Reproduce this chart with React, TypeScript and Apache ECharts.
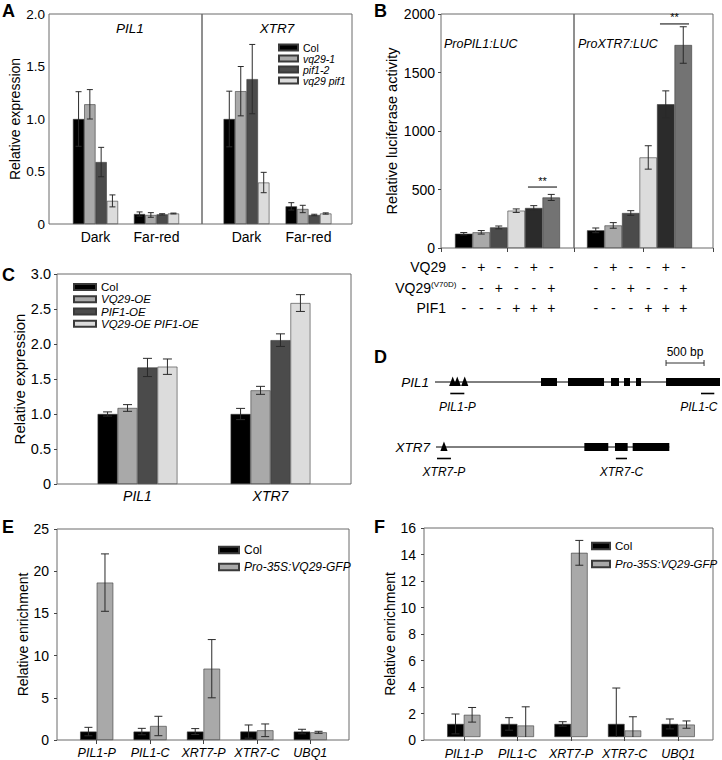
import React, { useEffect, useRef } from 'react';
import * as echarts from 'echarts';

const FONT = '"Liberation Sans", Arial, Helvetica, sans-serif';

// ---------------- Panel A ----------------
const aCategories = ['Dark', 'Far-red'];
const aNames = ['Col', 'vq29-1', 'pif1-2', 'vq29 pif1'];
const aColors = ['#000000', '#a9a9a9', '#4b4b4b', '#dcdcdc'];
const aTicks = [0, 0.5, 1, 1.5, 2];
// per genotype: [Dark, Far-red]
const aPil1Values = [[1.0, 0.095], [1.14, 0.086], [0.59, 0.092], [0.22, 0.10]];
const aPil1Errors = [[0.26, 0.02], [0.14, 0.022], [0.14, 0.006], [0.057, 0.004]];
const aXtr7Values = [[1.0, 0.168], [1.265, 0.143], [1.38, 0.086], [0.395, 0.10]];
const aXtr7Errors = [[0.265, 0.035], [0.235, 0.035], [0.33, 0.007], [0.097, 0.006]];

// ---------------- Panel B ----------------
const bColors = ['#000000', '#a9a9a9', '#4b4b4b', '#dcdcdc', '#2b2b2b', '#737373'];
const bTicks = [0, 500, 1000, 1500, 2000];
const bPil1Values = [122, 134, 176, 319, 342, 432];
const bPil1Errors = [10, 15, 12, 15, 20, 26];
const bXtr7Values = [151, 193, 299, 774, 1229, 1735];
const bXtr7Errors = [20, 24, 20, 100, 114, 156];
const bVq29 = ['-', '+', '-', '-', '+', '-'];
const bVq29V70D = ['-', '-', '+', '-', '-', '+'];
const bPif1 = ['-', '-', '-', '+', '+', '+'];
// significance brackets: [fromBar, toBar, level]
const bPil1Sig = [[4, 5, 521]];
const bXtr7Sig = [[4, 5, 1915]];

// ---------------- Panel C ----------------
const cCategories = ['PIL1', 'XTR7'];
const cNames = ['Col', 'VQ29-OE', 'PIF1-OE', 'VQ29-OE PIF1-OE'];
const cColors = ['#000000', '#a9a9a9', '#4b4b4b', '#dcdcdc'];
const cTicks = [0, 0.5, 1, 1.5, 2, 2.5, 3];
// per genotype: [PIL1, XTR7]
const cValues = [[1.0, 1.0], [1.086, 1.338], [1.665, 2.055], [1.676, 2.585]];
const cErrors = [[0.03, 0.08], [0.048, 0.057], [0.13, 0.09], [0.11, 0.12]];

// ---------------- Panel D (gene models, bp) ----------------
const geneNames = ['PIL1', 'XTR7'];
const geneSpans = [[0, 3750], [13, 3083]];
const geneExons = [
  [[1395, 1605], [1750, 2224], [2316, 2421], [2487, 2566], [2645, 2711], [3040, 3750]],
  [[1965, 2280], [2368, 2535], [2601, 3083]],
];
const geneMotifs = [[233, 293, 391], [118]];
const primerNames = [['PIL1-P', 'PIL1-C'], ['XTR7-P', 'XTR7-C']];
const primerSpans = [[[201, 386], [3500, 3675]], [[26, 210], [2380, 2526]]];
const scaleBarStart = 3040;
const scaleBarBp = 500;
const dAxisMaxBp = 3750;

// ---------------- Panel E ----------------
const eCategories = ['PIL1-P', 'PIL1-C', 'XRT7-P', 'XTR7-C', 'UBQ1'];
const efNames = ['Col', 'Pro-35S:VQ29-GFP'];
const efColors = ['#000000', '#a9a9a9'];
const eTicks = [0, 5, 10, 15, 20, 25];
const eColValues = [1, 1, 1, 1, 1];
const eColErrors = [0.5, 0.38, 0.35, 0.78, 0.27];
const eGfpValues = [18.65, 1.66, 8.45, 1.15, 0.91];
const eGfpErrors = [3.4, 1.15, 3.45, 0.75, 0.12];

// ---------------- Panel F ----------------
const fCategories = ['PIL1-P', 'PIL1-C', 'XRT7-P', 'XTR7-C', 'UBQ1'];
const fTicks = [0, 2, 4, 6, 8, 10, 12, 14, 16];
const fColValues = [1, 1, 1, 1, 1];
const fColErrors = [0.76, 0.48, 0.17, 2.75, 0.38];
const fGfpValues = [1.7, 0.88, 14.1, 0.5, 0.95];
const fGfpErrors = [0.56, 1.43, 0.95, 1.05, 0.28];

// ---------------- helpers ----------------
function frameGrid(left: number, top: number, width: number, height: number) {
  return { left, top, width, height, show: true, borderColor: '#6b6b6b', borderWidth: 1, backgroundColor: 'transparent' };
}
function dataGrid(left: number, top: number, width: number, height: number) {
  return { left, top, width, height, show: false };
}
const fmt1 = (v: number) => (v === 0 ? '0' : v.toFixed(1));
const fmtInt = (v: number) => String(v);

function frameY(gridIndex: number, ticks: number[], o: any) {
  return {
    type: 'value', gridIndex, min: ticks[0], max: ticks[ticks.length - 1], interval: ticks[1] - ticks[0],
    show: o.show !== false,
    axisLine: { show: false },
    axisTick: { show: !!o.tick, length: 3, lineStyle: { color: '#444' } },
    splitLine: { show: false },
    axisLabel: { margin: o.margin, fontSize: o.fontSize, color: '#000', fontFamily: FONT, formatter: o.fmt || fmtInt },
    name: o.name, nameLocation: 'middle', nameGap: o.nameGap, nameRotate: 90,
    nameTextStyle: { fontSize: o.nameSize, color: '#000', fontFamily: FONT },
  };
}
function hiddenY(gridIndex: number, ticks: number[]) {
  return { type: 'value', gridIndex, min: ticks[0], max: ticks[ticks.length - 1], interval: ticks[1] - ticks[0], show: false, splitLine: { show: false } };
}
function hiddenX(gridIndex: number) {
  return { type: 'category', gridIndex, data: [''], show: false };
}
function dataX(gridIndex: number, cats: string[], o: any) {
  return {
    type: 'category', gridIndex, data: cats,
    axisLine: { show: false },
    axisTick: { show: !!o.tick, alignWithLabel: true, length: 4, lineStyle: { color: '#444' } },
    splitLine: { show: false },
    axisLabel: {
      interval: 0, margin: o.margin, fontSize: o.fontSize, color: '#000', fontFamily: FONT,
      fontStyle: o.italic ? 'italic' : 'normal', lineHeight: o.lineHeight,
    },
  };
}
function barSeries(name: string, data: any[], axis: number, color: string, gap: string) {
  return {
    type: 'bar', name, data, xAxisIndex: axis, yAxisIndex: axis, barGap: '0%', barCategoryGap: gap,
    itemStyle: { color, borderColor: '#3a3a3a', borderWidth: 0.6 }, silent: true, z: 2,
  };
}
function errSeries(name: string, axis: number, nSeries: number, gap: number, values: number[][], errors: number[][], capW: number) {
  const data: number[][] = [];
  values.forEach((row, s) => row.forEach((v, c) => data.push([c, v, errors[s][c], s])));
  return {
    type: 'custom', name, xAxisIndex: axis, yAxisIndex: axis, data, encode: { x: 0, y: 1 }, clip: true, z: 5, silent: true,
    renderItem: (params: any, api: any) => {
      const c = api.value(0), v = api.value(1), e = api.value(2), s = api.value(3);
      const band = api.size([1, 0])[0];
      const groupW = band * (1 - gap);
      const barW = groupW / nSeries;
      const cx = api.coord([c, v])[0] - groupW / 2 + (s + 0.5) * barW;
      const yt = api.coord([c, v + e])[1];
      const yb = api.coord([c, v - e])[1];
      const st = { stroke: '#2a2a2a', lineWidth: 1 };
      return {
        type: 'group', children: [
          { type: 'line', shape: { x1: cx, y1: yt, x2: cx, y2: yb }, style: st },
          { type: 'line', shape: { x1: cx - capW / 2, y1: yt, x2: cx + capW / 2, y2: yt }, style: st },
          { type: 'line', shape: { x1: cx - capW / 2, y1: yb, x2: cx + capW / 2, y2: yb }, style: st },
        ],
      };
    },
  };
}
function sigSeries(name: string, axis: number, sig: number[][]) {
  return {
    type: 'custom', name, xAxisIndex: axis, yAxisIndex: axis, data: sig, encode: { x: [0, 1], y: 2 }, z: 6, silent: true, clip: false,
    renderItem: (params: any, api: any) => {
      const band = api.size([1, 0])[0];
      const p1 = api.coord([api.value(0), api.value(2)]);
      const p2 = api.coord([api.value(1), api.value(2)]);
      const x1 = p1[0] - band * 0.33, x2 = p2[0] + band * 0.33, y = p1[1];
      return {
        type: 'group', children: [
          { type: 'line', shape: { x1, y1: y, x2, y2: y }, style: { stroke: '#000', lineWidth: 1 } },
          {
            type: 'text', style: {
              text: '**', x: (x1 + x2) / 2, y: y - 1, fill: '#000', fontSize: 11, fontFamily: FONT,
              align: 'center', verticalAlign: 'bottom', textAlign: 'center', textVerticalAlign: 'bottom',
            },
          },
        ],
      };
    },
  };
}
function txt(text: string, x: number, y: number, o: any = {}) {
  return {
    type: 'text', x, y, silent: true,
    style: {
      text, fill: '#000', fontFamily: FONT, fontSize: o.size || 13, fontStyle: o.italic ? 'italic' : 'normal',
      fontWeight: o.bold ? 'bold' : 'normal',
      align: o.align || 'left', textAlign: o.align || 'left',
      verticalAlign: 'middle', textVerticalAlign: 'middle',
    },
  };
}

// D features built from the gene arrays
type Feature = { kind: string; row: number; start: number; end: number; label?: string };
function buildGeneFeatures(): Feature[] {
  const out: Feature[] = [];
  geneNames.forEach((g, r) => {
    out.push({ kind: 'line', row: r, start: geneSpans[r][0], end: geneSpans[r][1] });
    out.push({ kind: 'name', row: r, start: geneSpans[r][0], end: geneSpans[r][0], label: g });
    geneExons[r].forEach(([s, e]) => out.push({ kind: 'exon', row: r, start: s, end: e }));
    geneMotifs[r].forEach((m) => out.push({ kind: 'motif', row: r, start: m, end: m }));
    primerSpans[r].forEach(([s, e], i) => out.push({ kind: 'primer', row: r, start: s, end: e, label: primerNames[r][i] }));
  });
  out.push({ kind: 'scale', row: 0, start: scaleBarStart, end: scaleBarStart + scaleBarBp, label: `${scaleBarBp} bp` });
  return out;
}

function buildOption() {
  const feats = buildGeneFeatures();
  const bCats = bVq29.map((a, i) => [a, bVq29V70D[i], bPif1[i]].join('\n'));
  const italic = { fontStyle: 'italic' };

  const grid = [
    frameGrid(49, 14, 153, 210), // 0 A frame L
    frameGrid(202, 14, 150, 210), // 1 A frame R
    dataGrid(65, 14, 122, 210), // 2 A data L
    dataGrid(215.5, 14, 124, 210), // 3 A data R
    frameGrid(441, 14, 133, 234), // 4 B frame L
    frameGrid(574, 14, 139, 234), // 5 B frame R
    dataGrid(455, 14, 105, 234), // 6 B data L
    dataGrid(587, 14, 105, 234), // 7 B data R
    frameGrid(57, 274, 294, 210), // 8 C frame
    dataGrid(71, 274, 266, 210), // 9 C data
    dataGrid(435, 382, 285, 65), // 10 D
    frameGrid(57, 529, 292, 211), // 11 E frame
    dataGrid(70, 529, 267, 211), // 12 E data
    frameGrid(424, 528, 289, 212), // 13 F frame
    dataGrid(437, 528, 268, 212), // 14 F data
  ];

  const bFrameX = (gi: number) => ({
    type: 'category', gridIndex: gi, data: ['', ''],
    axisLine: { show: false }, axisLabel: { show: false },
    axisTick: { show: true, length: 4, lineStyle: { color: '#444' } }, splitLine: { show: false },
  });

  const xAxis = [
    hiddenX(0), hiddenX(1),
    dataX(2, aCategories, { margin: 6, fontSize: 14 }),
    dataX(3, aCategories, { margin: 6, fontSize: 14 }),
    bFrameX(4), bFrameX(5),
    dataX(6, bCats, { margin: 9, fontSize: 14, lineHeight: 20.5 }),
    dataX(7, bCats, { margin: 9, fontSize: 14, lineHeight: 20.5 }),
    hiddenX(8),
    dataX(9, cCategories, { margin: 5, fontSize: 14, italic: true }),
    { type: 'value', gridIndex: 10, min: 0, max: dAxisMaxBp, show: false, splitLine: { show: false } },
    hiddenX(11),
    dataX(12, eCategories, { margin: 6, fontSize: 12.5, italic: true, tick: true }),
    hiddenX(13),
    dataX(14, fCategories, { margin: 10, fontSize: 12.5, italic: true, tick: true }),
  ];

  const yAxis = [
    frameY(0, aTicks, { margin: 4, fontSize: 13.5, fmt: fmt1, name: 'Relative expression', nameGap: 27, nameSize: 14 }),
    hiddenY(1, aTicks),
    hiddenY(2, aTicks),
    hiddenY(3, aTicks),
    frameY(4, bTicks, { margin: 6, fontSize: 14, tick: true, fmt: fmtInt, name: 'Relative luciferase activity', nameGap: 40, nameSize: 14.5 }),
    hiddenY(5, bTicks),
    hiddenY(6, bTicks),
    hiddenY(7, bTicks),
    frameY(8, cTicks, { margin: 6, fontSize: 14.5, tick: true, fmt: fmt1, name: 'Relative expression', nameGap: 30, nameSize: 15 }),
    hiddenY(9, cTicks),
    { type: 'value', gridIndex: 10, min: 0, max: 1, inverse: true, show: false, splitLine: { show: false } },
    frameY(11, eTicks, { margin: 8, fontSize: 14, tick: true, fmt: fmtInt, name: 'Relative enrichment', nameGap: 23, nameSize: 14 }),
    hiddenY(12, eTicks),
    frameY(13, fTicks, { margin: 8, fontSize: 14, tick: true, fmt: fmtInt, name: 'Relative enrichment', nameGap: 23, nameSize: 14 }),
    hiddenY(14, fTicks),
  ];

  const series: any[] = [];
  // A
  aNames.forEach((n, s) => series.push(barSeries(n, aPil1Values[s], 2, aColors[s], '26%')));
  aNames.forEach((n, s) => series.push(barSeries(n, aXtr7Values[s], 3, aColors[s], '26%')));
  series.push(errSeries('errA1', 2, 4, 0.26, aPil1Values, aPil1Errors, 6));
  series.push(errSeries('errA2', 3, 4, 0.26, aXtr7Values, aXtr7Errors, 6));
  // B
  series.push(barSeries('ProPIL1:LUC', bPil1Values.map((v, i) => ({ value: v, itemStyle: { color: bColors[i] } })), 6, '#000', '0%'));
  series.push(barSeries('ProXTR7:LUC', bXtr7Values.map((v, i) => ({ value: v, itemStyle: { color: bColors[i] } })), 7, '#000', '0%'));
  series.push(errSeries('errB1', 6, 1, 0, [bPil1Values], [bPil1Errors], 7));
  series.push(errSeries('errB2', 7, 1, 0, [bXtr7Values], [bXtr7Errors], 7));
  series.push(sigSeries('sigB1', 6, bPil1Sig));
  series.push(sigSeries('sigB2', 7, bXtr7Sig));
  // C
  cNames.forEach((n, s) => series.push(barSeries(n, cValues[s], 9, cColors[s], '40%')));
  series.push(errSeries('errC', 9, 4, 0.4, cValues, cErrors, 9));
  // D
  series.push({
    type: 'custom', name: 'genes', xAxisIndex: 10, yAxisIndex: 10, clip: false, silent: true, z: 3,
    data: feats.map((f) => [f.start, f.row]), encode: { x: 0, y: 1 },
    renderItem: (params: any, api: any) => {
      const f = feats[params.dataIndex];
      const p0 = api.coord([f.start, f.row]);
      const p1 = api.coord([f.end, f.row]);
      const y = p0[1];
      const black = { fill: '#000' };
      const tstyle = (text: string, x: number, yy: number, size: number, align: string, it: boolean) => ({
        text, x, y: yy, fill: '#000', fontSize: size, fontFamily: FONT, fontStyle: it ? 'italic' : 'normal',
        align, textAlign: align, verticalAlign: 'middle', textVerticalAlign: 'middle',
      });
      if (f.kind === 'line') {
        return { type: 'line', shape: { x1: p0[0], y1: y, x2: p1[0], y2: y }, style: { stroke: '#000', lineWidth: 1 } };
      }
      if (f.kind === 'name') {
        return { type: 'text', style: tstyle(f.label || '', p0[0] - 6, y, 13.5, 'right', true) };
      }
      if (f.kind === 'exon') {
        return { type: 'rect', shape: { x: p0[0], y: y - 4, width: p1[0] - p0[0], height: 8 }, style: black };
      }
      if (f.kind === 'motif') {
        return { type: 'polygon', shape: { points: [[p0[0] - 3.6, y + 4], [p0[0] + 3.6, y + 4], [p0[0], y - 5.5]] }, style: black };
      }
      if (f.kind === 'primer') {
        const cx = (p0[0] + p1[0]) / 2;
        const w = 12 * 0.56 * (f.label || '').length;
        const lx = Math.min(cx, api.getWidth() - 3 - w / 2);
        return {
          type: 'group', children: [
            { type: 'line', shape: { x1: p0[0], y1: y + 11.5, x2: p1[0], y2: y + 11.5 }, style: { stroke: '#000', lineWidth: 1.6 } },
            { type: 'text', style: tstyle(f.label || '', lx, y + 24.5, 12, 'center', true) },
          ],
        };
      }
      if (f.kind === 'scale') {
        const ys = y - 19;
        const st = { stroke: '#333', lineWidth: 1 };
        return {
          type: 'group', children: [
            { type: 'line', shape: { x1: p0[0], y1: ys, x2: p1[0], y2: ys }, style: st },
            { type: 'line', shape: { x1: p0[0], y1: ys - 3, x2: p0[0], y2: ys + 3 }, style: st },
            { type: 'line', shape: { x1: p1[0], y1: ys - 3, x2: p1[0], y2: ys + 3 }, style: st },
            { type: 'text', style: tstyle(f.label || '', (p0[0] + p1[0]) / 2, ys - 11, 12, 'center', false) },
          ],
        };
      }
      return null;
    },
  });
  // E
  series.push(barSeries(efNames[0], eColValues, 12, efColors[0], '38%'));
  series.push(barSeries(efNames[1], eGfpValues, 12, efColors[1], '38%'));
  series.push(errSeries('errE', 12, 2, 0.38, [eColValues, eGfpValues], [eColErrors, eGfpErrors], 8));
  // F
  series.push(barSeries(efNames[0], fColValues, 14, efColors[0], '38%'));
  series.push(barSeries(efNames[1], fGfpValues, 14, efColors[1], '38%'));
  series.push(errSeries('errF', 14, 2, 0.38, [fColValues, fGfpValues], [fColErrors, fGfpErrors], 8));

  const legendBase = (o: any) => ({
    orient: 'vertical', icon: 'rect', padding: 0, selectedMode: false,
    itemWidth: o.iw, itemHeight: o.ih, itemGap: o.gap, left: o.left, top: o.top,
    textStyle: { fontSize: o.fs, lineHeight: o.lh, color: '#000', fontFamily: FONT },
    data: o.names.map((n: string) => (n === 'Col' ? { name: n } : { name: n, textStyle: italic })),
  });
  const legend = [
    legendBase({ names: aNames, left: 278, top: 42, iw: 19, ih: 6, gap: 0, fs: 10.5, lh: 10.5 }),
    legendBase({ names: cNames, left: 73, top: 281, iw: 22, ih: 6, gap: 0, fs: 11.5, lh: 12.2 }),
    legendBase({ names: efNames, left: 218, top: 543, iw: 20, ih: 6.5, gap: 3, fs: 12, lh: 14 }),
    legendBase({ names: efNames, left: 591, top: 539, iw: 18, ih: 6.5, gap: 4, fs: 11.5, lh: 14 }),
  ];

  const graphic = [
    txt('A', 2, 11, { size: 18, bold: true }),
    txt('B', 374, 11, { size: 18, bold: true }),
    txt('C', 2, 275, { size: 18, bold: true }),
    txt('D', 374, 357, { size: 18, bold: true }),
    txt('E', 2, 527, { size: 18, bold: true }),
    txt('F', 374, 527, { size: 18, bold: true }),
    txt('PIL1', 130, 28, { size: 13.5, italic: true, align: 'center' }),
    txt('XTR7', 277, 28, { size: 13.5, italic: true, align: 'center' }),
    txt('ProPIL1:LUC', 444, 44, { size: 12.5, italic: true }),
    txt('ProXTR7:LUC', 578, 44, { size: 12.5, italic: true }),
    txt('VQ29', 446, 267, { size: 14, align: 'right' }),
    txt('VQ29', 431, 288, { size: 14, align: 'right' }),
    txt('(V70D)', 431, 284, { size: 8 }),
    txt('PIF1', 446, 308, { size: 14, align: 'right' }),
  ];

  return {
    animation: false,
    backgroundColor: '#fff',
    textStyle: { fontFamily: FONT },
    grid, xAxis, yAxis, series, legend, graphic,
  };
}

export default function App() {
  const ref = useRef<HTMLDivElement>(null);
  useEffect(() => {
    if (!ref.current) return;
    const chart = echarts.init(ref.current, null, { renderer: 'svg' });
    chart.setOption(buildOption() as any);
    return () => chart.dispose();
  }, []);
  return <div ref={ref} style={{ position: 'fixed', left: 0, top: 0, width: 722, height: 760, background: '#fff' }} />;
}
